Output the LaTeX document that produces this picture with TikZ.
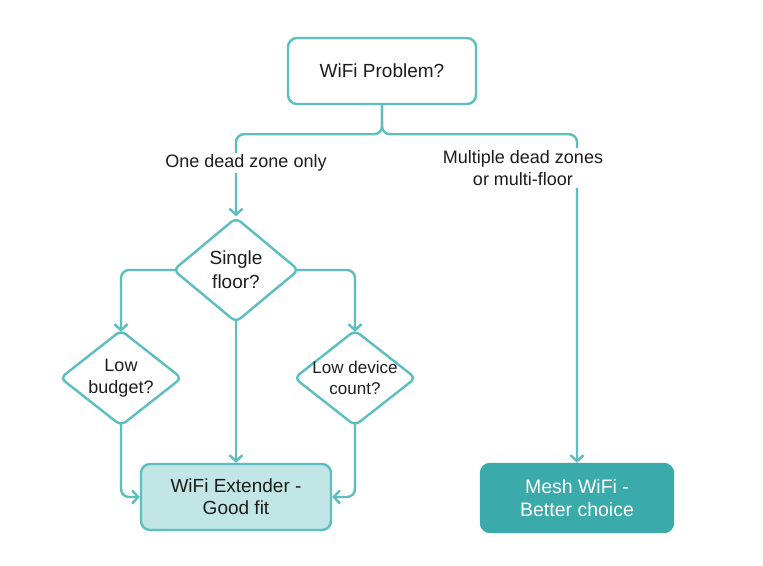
\documentclass[tikz,border=0pt]{standalone}
\usepackage{fontspec}
\setmainfont{Liberation Sans}
\usepackage{xcolor}
\usepackage{tikz}
\usetikzlibrary{arrows.meta,shapes.geometric}
\definecolor{tealline}{RGB}{92,190,190}
\definecolor{tealfill}{RGB}{58,170,170}
\definecolor{tealpale}{RGB}{194,230,229}
\definecolor{inkdark}{RGB}{28,28,28}

\begin{document}
\begin{tikzpicture}[x=1pt,y=-1pt,line width=2.4pt,
  every node/.style={font=\fontsize{18}{22}\selectfont,text=inkdark},
  box/.style={draw=tealline,rounded corners=9pt,minimum width=188pt,minimum height=66pt,align=center},
  choice/.style={draw=tealline,fill=white,diamond,aspect=1.2,rounded corners=6pt,inner xsep=-16pt,inner ysep=-6pt,minimum width=126pt,minimum height=105pt,align=center},
  link/.style={draw=tealline,rounded corners=8pt,-{Straight Barb[length=6pt,width=13pt]}},
  tag/.style={fill=white,align=center,inner sep=2pt}]
\path[use as bounding box,fill=white] (0,0) rectangle (763,565);
\node[box,font=\fontsize{19}{23}\selectfont] (problem) at (382,71) {WiFi Problem?};
\node[choice,font=\fontsize{19}{24}\selectfont] (single) at (236,270) {Single\\floor?};
\node[choice,minimum width=122pt,minimum height=96pt] (budget) at (121,378) {Low\\budget?};
\node[choice,minimum width=122pt,minimum height=96pt,font=\fontsize{17}{21}\selectfont] (device) at (355,378) {Low device\\count?};
\node[box,fill=tealpale,minimum width=190pt,font=\fontsize{19}{22}\selectfont] (extender) at (236,497) {WiFi Extender -\\Good fit};
\node[box,draw=tealfill,fill=tealfill,text=white,minimum width=192pt,minimum height=68pt,font=\fontsize{19.5}{23}\selectfont] (mesh) at (577,498) {Mesh WiFi -\\Better choice};
% connectors
\draw[link] (problem.south) -- ++(0,29) -| (single.north);
\draw[link] (problem.south) -- ++(0,29) -| (mesh.north);
\draw[link,shorten <=-3pt,shorten >=-3pt] (single.west) -| (budget.north);
\draw[link,shorten <=-3pt,shorten >=-3pt] (single.east) -| (device.north);
\draw[link,shorten <=-3pt] (single.south) -- (extender.north);
\draw[link,shorten <=-3pt] (budget.south) |- (extender.west);
\draw[link,shorten <=-3pt] (device.south) |- (extender.east);
% branch labels
\node[tag] (onezone) at (246,163) {One dead zone only};
\node[tag] (multizone) at (523,168) {Multiple dead zones\\or multi-floor};
\end{tikzpicture}
\end{document}
